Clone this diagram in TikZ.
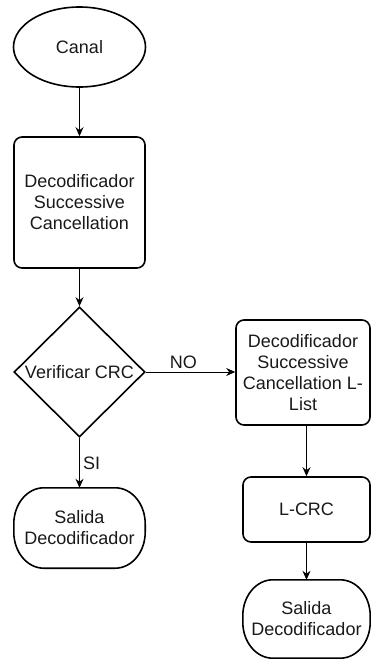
\documentclass[tikz,border=0pt]{standalone}
\usepackage{fontspec}
\setmainfont{Liberation Sans}
\usetikzlibrary{shapes.geometric,arrows.meta}

% outline of a terminal node: flat top and bottom, elliptical ends
\newcommand{\termoutline}[1]{%
  \draw[shapeline]
    ([xshift=30pt]#1.north west) -- ([xshift=-30pt]#1.north east)
    arc[start angle=90, end angle=0, x radius=30pt, y radius=36pt]
    -- ([yshift=36pt]#1.south east)
    arc[start angle=0, end angle=-90, x radius=30pt, y radius=36pt]
    -- ([xshift=30pt]#1.south west)
    arc[start angle=-90, end angle=-180, x radius=30pt, y radius=36pt]
    -- ([yshift=-36pt]#1.north west)
    arc[start angle=180, end angle=90, x radius=30pt, y radius=36pt]
    -- cycle;}

\begin{document}
\begin{tikzpicture}[x=1pt,y=-1pt,
  every node/.style={font=\fontsize{18}{21}\selectfont, text=black!90, align=center, inner sep=0pt},
  shapeline/.style={draw=black, line width=1.6pt},
  startnode/.style={shapeline, ellipse, minimum width=132pt, minimum height=80pt},
  procbox/.style={shapeline, rectangle, rounded corners=8pt},
  decision/.style={shapeline, diamond, aspect=1, minimum width=131pt, minimum height=130pt},
  terminal/.style={rectangle, minimum height=79pt},
  flow/.style={line width=1pt, -{Stealth[length=9pt, width=8pt]}},
  edgelabel/.style={font=\fontsize{18}{21}\selectfont}
]
\useasboundingbox (0,0) rectangle (371,659);

% left column
\node[startnode] (canal) at (79.5,47) {Canal};
\node[procbox, minimum width=131pt, minimum height=131pt] (sc) at (79.5,202.5)
  {Decodificador\\Successive\\Cancellation};
\node[decision] (crc) at (79.5,372) {Verificar CRC};
\node[terminal, minimum width=131pt, minimum height=80pt] (out1) at (79.5,528) {Salida\\Decodificador};
\termoutline{out1}

% right column
\node[procbox, minimum width=134pt, minimum height=105pt] (scl) at (303,372.5)
  {Decodificador\\Successive\\Cancellation L-\\List};
\node[procbox, minimum width=127pt, minimum height=65pt] (lcrc) at (306.5,509.5) {L-CRC};
\node[terminal, minimum width=127pt, minimum height=78pt] (out2) at (306.5,619) {Salida\\Decodificador};
\termoutline{out2}

% connectors
\draw[flow] (canal) -- (sc);
\draw[flow] (sc) -- (crc);
\draw[flow] (crc) -- node[edgelabel, anchor=west, xshift=3pt] {SI} (out1);
\draw[flow] (crc.east) -- node[edgelabel, pos=0.42, anchor=south, yshift=3pt] {NO} (scl.west |- crc.east);
\draw[flow] (scl.south -| lcrc.north) -- (lcrc.north);
\draw[flow] (lcrc) -- (out2);
\end{tikzpicture}
\end{document}
